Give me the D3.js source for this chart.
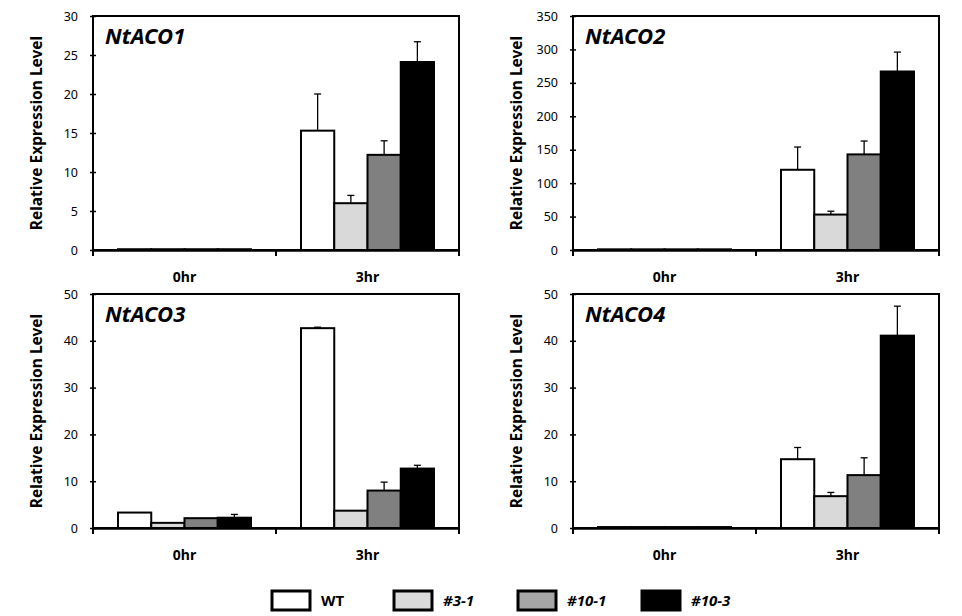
<!DOCTYPE html>
<html><head><meta charset="utf-8">
<script src="https://cdn.jsdelivr.net/npm/d3@7"></script>
<style>body{margin:0;background:#fff}svg{display:block}</style>
</head><body>
<svg id="c" width="962" height="616"></svg>
<script>
const times = ["0hr", "3hr"];
const lines = ["WT", "#3-1", "#10-1", "#10-3"];
const colors = ["#ffffff", "#d9d9d9", "#808080", "#000000"];
const legendColors = ["#ffffff", "#d9d9d9", "#a6a6a6", "#000000"];
const genes = ["NtACO1", "NtACO2", "NtACO3", "NtACO4"];
const yMax = [30, 350, 50, 50];
const yStep = [5, 50, 10, 10];
// values[time][line]
const aco1 = [[0.1, 0.1, 0.1, 0.1], [15.3, 6.0, 12.2, 24.1]];
const aco1Err = [[0, 0, 0, 0], [4.7, 1.0, 1.8, 2.6]];
const aco2 = [[1, 1, 1, 1], [120, 53, 143, 267]];
const aco2Err = [[0, 0, 0, 0], [34, 5, 20, 29]];
const aco3 = [[3.3, 1.1, 2.1, 2.2], [42.7, 3.7, 8.0, 12.7]];
const aco3Err = [[0, 0, 0, 0.7], [0.2, 0, 1.8, 0.7]];
const aco4 = [[0.2, 0.2, 0.2, 0.2], [14.7, 6.8, 11.3, 41.1]];
const aco4Err = [[0, 0, 0, 0], [2.5, 0.8, 3.7, 6.3]];
const values = [aco1, aco2, aco3, aco4];
const errors = [aco1Err, aco2Err, aco3Err, aco4Err];

const svg = d3.select("#c");
const font = "'Noto Sans', 'Open Sans', sans-serif";
const panels = [
  {x: 93, y: 16}, {x: 573, y: 16}, {x: 93, y: 294}, {x: 573, y: 294}
];
const W = 366, H = 234;

panels.forEach((p, i) => {
  const g = svg.append("g").attr("transform", `translate(${p.x},${p.y})`);
  const x0 = d3.scaleBand().domain(times).range([0, W]).paddingInner(0).paddingOuter(0);
  const x1 = d3.scaleBand().domain(lines).range([25, x0.bandwidth() - 25]).padding(0);
  const y = d3.scaleLinear().domain([0, yMax[i]]).range([H, 0]);

  times.forEach((t, ti) => {
    const gg = g.append("g").attr("transform", `translate(${x0(t)},0)`);
    lines.forEach((l, li) => {
      const v = values[i][ti][li], e = errors[i][ti][li];
      const bx = x1(l), bw = x1.bandwidth();
      if (e > 0) {
        const cx = bx + bw / 2;
        gg.append("line").attr("x1", cx).attr("x2", cx).attr("y1", y(v)).attr("y2", y(v + e))
          .attr("stroke", "#000").attr("stroke-width", 1.3);
        gg.append("line").attr("x1", cx - 3.5).attr("x2", cx + 3.5).attr("y1", y(v + e)).attr("y2", y(v + e))
          .attr("stroke", "#000").attr("stroke-width", 1.3);
      }
      gg.append("rect").attr("x", bx).attr("y", y(v)).attr("width", bw).attr("height", H - y(v))
        .attr("fill", colors[li]).attr("stroke", "#000").attr("stroke-width", 2);
    });
  });

  g.append("rect").attr("x", 0).attr("y", 0).attr("width", W).attr("height", H)
    .attr("fill", "none").attr("stroke", "#000").attr("stroke-width", 2);

  const ya = g.append("g").call(d3.axisLeft(y).tickValues(d3.range(0, yMax[i] + 1e-9, yStep[i]))
    .tickSize(3).tickPadding(12));
  ya.select(".domain").remove();
  ya.selectAll(".tick line").attr("x2", 3).attr("x1", -3).attr("stroke-width", 1.5);
  ya.selectAll(".tick text").attr("font-family", font).attr("font-size", 12.5).attr("fill", "#000");

  const xa = g.append("g").attr("transform", `translate(0,${H})`)
    .call(d3.axisBottom(x0).tickSize(0).tickPadding(22));
  xa.select(".domain").attr("stroke-width", 2.5);
  xa.selectAll(".tick text").attr("font-family", font).attr("font-size", 14).attr("font-weight", "bold").attr("fill", "#000");
  const bounds = [0, x0("3hr"), W];
  bounds.forEach(b => {
    xa.append("line").attr("x1", b).attr("x2", b).attr("y1", 0).attr("y2", 6)
      .attr("stroke", "#000").attr("stroke-width", 2);
  });

  g.append("text").attr("x", 12).attr("y", 28).text(genes[i])
    .attr("font-family", font).attr("font-size", 22).attr("font-weight", "bold").attr("font-style", "italic");

  g.append("text").attr("transform", `translate(-51,${H / 2}) rotate(-90)`)
    .attr("text-anchor", "middle").text("Relative Expression Level")
    .attr("font-family", font).attr("font-size", 15.5).attr("font-weight", "bold");
});

const legX = [272, 394, 518, 642];
const leg = svg.append("g");
lines.forEach((l, li) => {
  leg.append("rect").attr("x", legX[li]).attr("y", 591).attr("width", 38).attr("height", 19)
    .attr("fill", legendColors[li]).attr("stroke", "#000").attr("stroke-width", 3);
  leg.append("text").attr("x", legX[li] + 49).attr("y", 606).text(l)
    .attr("font-family", font).attr("font-size", 15).attr("font-weight", "bold")
    .attr("font-style", li === 0 ? "normal" : "italic");
});
</script>
</body></html>
